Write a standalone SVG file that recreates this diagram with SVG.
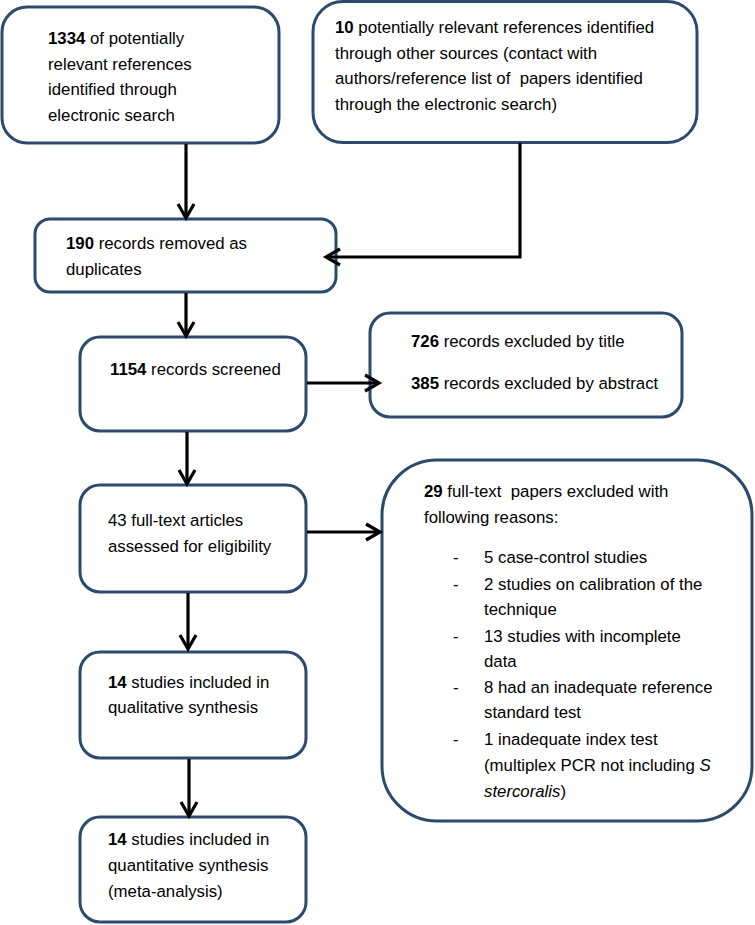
<svg xmlns="http://www.w3.org/2000/svg" width="755" height="925" viewBox="0 0 755 925">
<style>
.box{fill:#fff;stroke:#2C4A6E;stroke-width:3}
.t{font-family:"Liberation Sans",Arial,sans-serif;font-size:16.8px;fill:#000}
.b{font-weight:bold}
.i{font-style:italic}
.c{fill:none;stroke:#000;stroke-width:3.2;marker-end:url(#ah)}
</style>
<defs>
<marker id="ah" markerUnits="userSpaceOnUse" markerWidth="22" markerHeight="22" viewBox="0 0 22 22" refX="16" refY="11" orient="auto">
<path d="M2,3 L16,11 L2,19" fill="none" stroke="#000" stroke-width="3.2"/>
</marker>
</defs>
<rect width="755" height="925" fill="#fff"/>
<g id="n1">
<rect class="box" x="2" y="7" width="277" height="136" rx="25"/>
<text class="t" x="48" y="44"><tspan class="b">1334</tspan> of potentially</text>
<text class="t" x="48" y="69.5">relevant references</text>
<text class="t" x="48" y="95">identified through</text>
<text class="t" x="48" y="121">electronic search</text>
</g>
<g id="n2">
<rect class="box" x="313" y="1.5" width="384" height="141" rx="30"/>
<text class="t" x="335" y="33"><tspan class="b">10</tspan> potentially relevant references identified</text>
<text class="t" x="335" y="58.5">through other sources (contact with</text>
<text class="t" x="335" y="84" xml:space="preserve">authors/reference list of  papers identified</text>
<text class="t" x="335" y="110">through the electronic search)</text>
</g>
<g id="n3">
<rect class="box" x="35" y="219" width="301" height="73" rx="15"/>
<text class="t" x="66" y="249"><tspan class="b">190</tspan> records removed as</text>
<text class="t" x="66" y="275">duplicates</text>
</g>
<g id="n4">
<rect class="box" x="80" y="337" width="226" height="94" rx="20"/>
<text class="t" x="110" y="375"><tspan class="b">1154</tspan> records screened</text>
</g>
<g id="n5">
<rect class="box" x="370" y="313" width="312" height="104" rx="20"/>
<text class="t" x="411" y="347"><tspan class="b">726</tspan> records excluded by title</text>
<text class="t" x="411" y="389"><tspan class="b">385</tspan> records excluded by abstract</text>
</g>
<g id="n6">
<rect class="box" x="80" y="485" width="226" height="107" rx="20"/>
<text class="t" x="108" y="526">43 full-text articles</text>
<text class="t" x="108" y="552">assessed for eligibility</text>
</g>
<g id="n7">
<rect class="box" x="382" y="460" width="370" height="361" rx="55"/>
<text class="t" x="424" y="497" xml:space="preserve"><tspan class="b">29</tspan> full-text  papers excluded with</text>
<text class="t" x="424" y="523">following reasons:</text>
<text class="t" x="453" y="563">-</text>
<text class="t" x="484" y="563">5 case-control studies</text>
<text class="t" x="453" y="590">-</text>
<text class="t" x="484" y="590">2 studies on calibration of the</text>
<text class="t" x="484" y="615">technique</text>
<text class="t" x="453" y="642">-</text>
<text class="t" x="484" y="642">13 studies with incomplete</text>
<text class="t" x="484" y="667">data</text>
<text class="t" x="453" y="693">-</text>
<text class="t" x="484" y="693">8 had an inadequate reference</text>
<text class="t" x="484" y="718">standard test</text>
<text class="t" x="453" y="745">-</text>
<text class="t" x="484" y="745">1 inadequate index test</text>
<text class="t" x="484" y="771">(multiplex PCR not including <tspan class="i">S</tspan></text>
<text class="t" x="484" y="797"><tspan class="i">stercoralis</tspan>)</text>
</g>
<g id="n8">
<rect class="box" x="80" y="652" width="226" height="106" rx="20"/>
<text class="t" x="108" y="688"><tspan class="b">14</tspan> studies included in</text>
<text class="t" x="108" y="713">qualitative synthesis</text>
</g>
<g id="n9">
<rect class="box" x="80" y="817" width="226" height="105" rx="20"/>
<text class="t" x="108" y="845"><tspan class="b">14</tspan> studies included in</text>
<text class="t" x="108" y="871">quantitative synthesis</text>
<text class="t" x="108" y="897">(meta-analysis)</text>
</g>
<g id="connectors">
<path class="c" d="M186,144 V218"/>
<path class="c" d="M520,143 V257 H326"/>
<path class="c" d="M186,293 V336"/>
<path class="c" d="M307,383 H379"/>
<path class="c" d="M187,432 V484"/>
<path class="c" d="M307,532 H380"/>
<path class="c" d="M188,593 V649"/>
<path class="c" d="M189,759 V816"/>
</g>
</svg>
